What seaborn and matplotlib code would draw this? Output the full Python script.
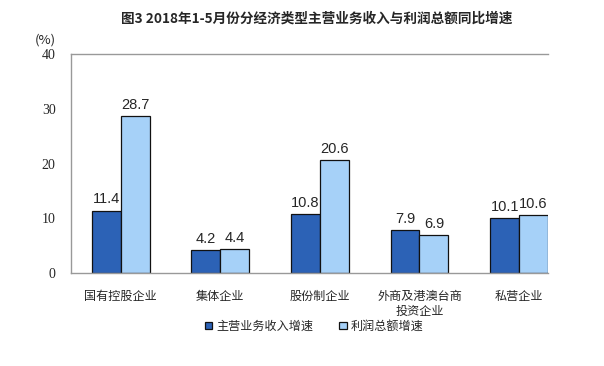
import matplotlib
matplotlib.use("Agg")
import matplotlib.pyplot as plt
import seaborn as sns
import pandas as pd

categories = ["国有控股企业", "集体企业", "股份制企业", "外商及港澳台商\n投资企业", "私营企业"]
revenue_growth = [11.4, 4.2, 10.8, 7.9, 10.1]
profit_growth = [28.7, 4.4, 20.6, 6.9, 10.6]
series_names = ["主营业务收入增速", "利润总额增速"]
yticks = [0, 10, 20, 30, 40]

sns.set_style("white")
plt.rcParams['font.family'] = ['Noto Sans CJK SC', 'DejaVu Sans']

df = pd.DataFrame({
    "cat": categories * 2,
    "val": revenue_growth + profit_growth,
    "series": [series_names[0]] * len(categories) + [series_names[1]] * len(categories),
})

fig = plt.figure(figsize=(6.04, 3.66), dpi=100)
ax = fig.add_axes([0.1175, 0.254, 0.7897, 0.598])
sns.barplot(data=df, x="cat", y="val", hue="series", order=categories,
            hue_order=series_names, palette=["#2C62B6", "#A6D1F8"], saturation=1,
            width=0.58, edgecolor="#111111", linewidth=0.9, ax=ax, legend=True)

for cont in ax.containers:
    ax.bar_label(cont, fmt="%.1f", padding=3, fontsize=10.5, family="Liberation Sans")

ax.set_ylim(0, 40)
ax.set_xlim(-0.5, len(categories) - 0.71)
ax.set_xlabel("")
ax.set_ylabel("")
ax.tick_params(axis="x", length=0, labelsize=8.7, pad=12)
ax.tick_params(axis="y", direction="in", length=3, color="#888888", pad=11)
ax.set_yticks(yticks)
ax.set_yticklabels([str(t) for t in yticks], family="Liberation Serif", fontsize=10)
for s in ["left", "bottom", "top"]:
    ax.spines[s].set_color("#999999")
    ax.spines[s].set_linewidth(1.0)
ax.spines["right"].set_visible(False)

handles, labels = ax.get_legend_handles_labels()
ax.get_legend().remove()
fig.legend(handles, labels, loc="center", bbox_to_anchor=(0.52, 0.109), ncol=2, frameon=False,
           fontsize=8.7, handlelength=0.6, handleheight=0.6, handletextpad=0.3,
           columnspacing=2.2)

fig.text(0.525, 0.948, "图3 2018年1-5月份分经济类型主营业务收入与利润总额同比增速",
         ha="center", va="center", fontsize=9.8, fontweight="bold")
fig.text(0.058, 0.89, "(%)", ha="left", va="center", fontsize=9.5)

fig.savefig("out.png", dpi=100)
